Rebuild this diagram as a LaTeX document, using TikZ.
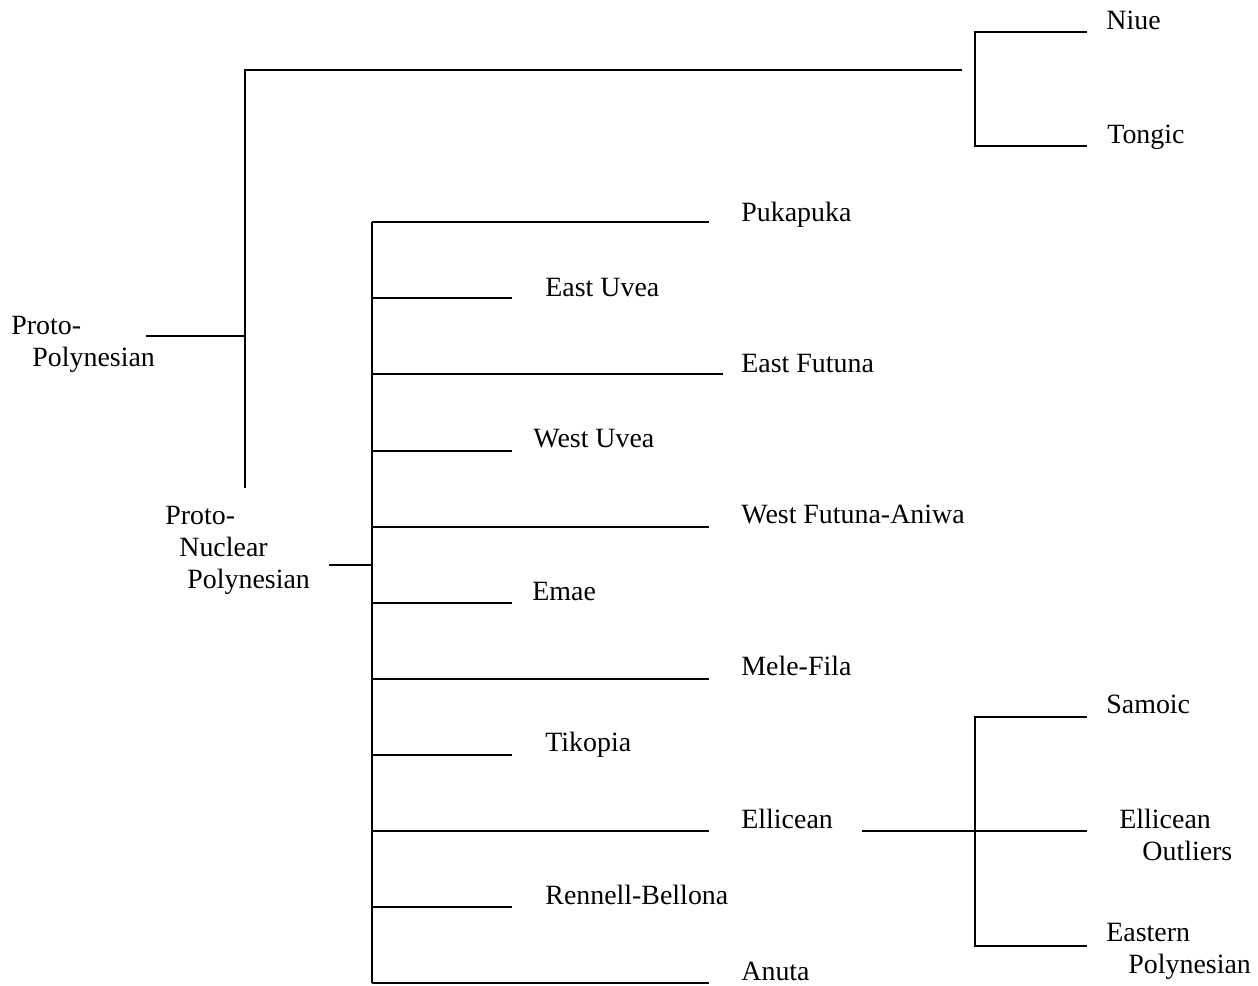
\documentclass[tikz,border=0pt]{standalone}
\usepackage{fontspec}
\setmainfont{Liberation Serif}
\usepackage{tikz}
\tikzstyle{lang} = [anchor=base west, inner sep=0pt, font=\fontsize{13.95}{16}\selectfont]
\tikzstyle{group} = [lang, align=left]
\tikzstyle{branch} = [line width=0.9pt]

\begin{document}
\begin{tikzpicture}[x=0.5pt, y=-0.5pt]
			\useasboundingbox (0,0) rectangle (1258,985);
			
			\node (pp) [group] at (11,366) {Proto-\\\hspace*{10.5pt}Polynesian};
			\node (niue) [lang] at (1106,29) {Niue};
			\node (tongic) [lang] at (1107,143) {Tongic};
			\node (pnp) [group] at (165,588) {Proto-\\\hspace*{7pt}Nuclear\\\hspace*{11pt}Polynesian};
			\node (puka) [lang] at (741,221) {Pukapuka};
			\node (euvea) [lang] at (545,296) {East Uvea};
			\node (efut) [lang] at (741,372) {East Futuna};
			\node (wuvea) [lang] at (533,447) {West Uvea};
			\node (wfut) [lang] at (741,523) {West Futuna-Aniwa};
			\node (emae) [lang] at (532,600) {Emae};
			\node (mele) [lang] at (741,675) {Mele-Fila};
			\node (tiko) [lang] at (545,751) {Tikopia};
			\node (ell) [lang] at (741,828) {Ellicean};
			\node (renn) [lang] at (545,904) {Rennell-Bellona};
			\node (anuta) [lang] at (741,980) {Anuta};
			\node (samoic) [lang] at (1106,713) {Samoic};
			\node (ellout) [group] at (1119,860) {Ellicean\\\hspace*{11.5pt}Outliers};
			\node (epoly) [group] at (1106,973) {Eastern\\\hspace*{11pt}Polynesian};
			
			% junctions and line ends
			\coordinate (pp-r) at (146,336);
			\coordinate (pp-v) at (245,336);
			\coordinate (pp-top) at (245,70);
			\coordinate (pp-bot) at (245,488);
			\coordinate (ton-l) at (962,70);
			\coordinate (ton-v) at (975,89);
			\coordinate (niue-e) at (1087,32);
			\coordinate (tongic-e) at (1087,146);
			\coordinate (pnp-r) at (329,565);
			\coordinate (nuc-top) at (372,222);
			\coordinate (nuc-bot) at (372,983);
			\coordinate (puka-e) at (709,222);
			\coordinate (euvea-e) at (512,298);
			\coordinate (efut-e) at (723,374);
			\coordinate (wuvea-e) at (512,451);
			\coordinate (wfut-e) at (709,527);
			\coordinate (emae-e) at (512,603);
			\coordinate (mele-e) at (709,679);
			\coordinate (tiko-e) at (512,755);
			\coordinate (ell-e) at (709,831);
			\coordinate (renn-e) at (512,907);
			\coordinate (anuta-e) at (709,983);
			\coordinate (ell-r) at (862,831);
			\coordinate (ell-v) at (975,831);
			\coordinate (samoic-e) at (1087,717);
			\coordinate (ellout-e) at (1087,831);
			\coordinate (epoly-e) at (1087,946);
			
			\draw [branch] (pp-r) -- (pp-v);
			\draw [branch] (ton-l) -- (pp-top) -- (pp-bot);
			\draw [branch] (niue-e) -| (ton-v) |- (tongic-e);
			\draw [branch] (pnp-r) -- (nuc-top |- pnp-r);
			\draw [branch] (nuc-top) -- (nuc-bot);
			\draw [branch] (nuc-top) -- (puka-e);
			\draw [branch] (nuc-top |- euvea-e) -- (euvea-e);
			\draw [branch] (nuc-top |- efut-e) -- (efut-e);
			\draw [branch] (nuc-top |- wuvea-e) -- (wuvea-e);
			\draw [branch] (nuc-top |- wfut-e) -- (wfut-e);
			\draw [branch] (nuc-top |- emae-e) -- (emae-e);
			\draw [branch] (nuc-top |- mele-e) -- (mele-e);
			\draw [branch] (nuc-top |- tiko-e) -- (tiko-e);
			\draw [branch] (nuc-top |- ell-e) -- (ell-e);
			\draw [branch] (nuc-top |- renn-e) -- (renn-e);
			\draw [branch] (nuc-bot) -- (anuta-e);
			\draw [branch] (ell-r) -- (ellout-e);
			\draw [branch] (samoic-e) -| (ell-v) |- (epoly-e);
			
			
\end{tikzpicture}
\end{document}
